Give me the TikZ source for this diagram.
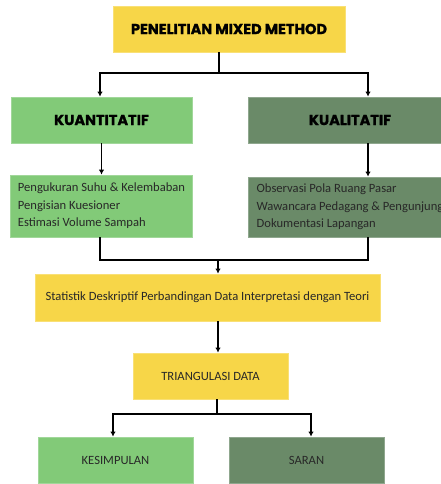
\documentclass[tikz,border=0pt]{standalone}
\usepackage{fontspec}
\setmainfont{Carlito}
\newfontfamily\headfont{Poppins}[BoldFeatures={FakeBold=1.2}]
\usetikzlibrary{positioning, arrows.meta}
\definecolor{boxyellow}{RGB}{247,214,72}
\definecolor{lightgreen}{RGB}{130,202,120}
\definecolor{darkgreen}{RGB}{106,138,104}
\definecolor{textgray}{RGB}{40,40,40}

\begin{document}
\begin{tikzpicture}[x=1pt, y=-1pt, >={Latex[length=5pt, width=5.5pt]},
        box/.style={rectangle, inner sep=0pt, fill=#1, draw=#1!75!white, line width=0.8pt,
            text=textgray, font=\fontsize{12.6}{17.5}\selectfont},
        head/.style={font=\headfont\bfseries\fontsize{14.5}{16}\selectfont, text=black},
        link/.style={line width=1.2pt}]

        \useasboundingbox (0,0) rectangle (441,484);
        \clip (0,0) rectangle (441,484);

        %cajas
        \node[box=boxyellow, head, minimum width=232, minimum height=46] (metode) at (229,29) {PENELITIAN MIXED METHOD};

        \node[box=lightgreen, head, minimum width=181, minimum height=46] (kuan) at (101.5,120) {KUANTITATIF};
        \node[box=darkgreen, head, minimum width=204, minimum height=46] (kual) at (350,120) {KUALITATIF};

        \node[box=lightgreen, align=left, minimum width=182, minimum height=62] (kuandata) at (101.5,206)
            {Pengukuran Suhu \& Kelembaban\\Pengisian Kuesioner\\Estimasi Volume Sampah};
        \node[box=darkgreen, align=left, minimum width=204, minimum height=60, inner xsep=7pt] (kualdata) at (350,207)
            {Observasi Pola Ruang Pasar\\Wawancara Pedagang \& Pengunjung\\Dokumentasi Lapangan};

        \node[box=boxyellow, minimum width=345, minimum height=47] (analisis) at (207.5,297.5)
            {Statistik Deskriptif Perbandingan Data Interpretasi dengan Teori};
        \node[box=boxyellow, minimum width=155, minimum height=46] (triang) at (210.5,376) {TRIANGULASI DATA};

        \node[box=lightgreen, minimum width=155, minimum height=46] (simpul) at (115.5,460) {KESIMPULAN};
        \node[box=darkgreen, minimum width=155, minimum height=46] (saran) at (306.5,460) {SARAN};

        %puntos de union
        \coordinate (split1) at (219,73);
        \coordinate (join1) at (218,260);
        \coordinate (split2) at (217,414);

        %conectores
        \draw[link] (metode.south -| split1) -- (split1);
        \draw[link, ->] (split1) -| ([xshift=-1.5]kuan.north);
        \draw[link, ->] (split1) -| ([xshift=18]kual.north);

        \draw[link, ->] (kuan) -- (kuandata);
        \draw[link, ->] ([xshift=18]kual.south) -- ([xshift=18]kual.south |- kualdata.north);

        \draw[link] ([xshift=-1.5]kuandata.south) |- (join1) -| ([xshift=18]kualdata.south);
        \draw[link, ->] (join1) -- (join1 |- analisis.north);

        \draw[link, ->] (analisis.south -| join1) -- (triang.north -| join1);

        \draw[link] (triang.south -| split2) -- (split2);
        \draw[link, ->] (split2) -| ([xshift=-2.5]simpul.north);
        \draw[link, ->] (split2) -| ([xshift=4.5]saran.north);
    \end{tikzpicture}
\end{document}
